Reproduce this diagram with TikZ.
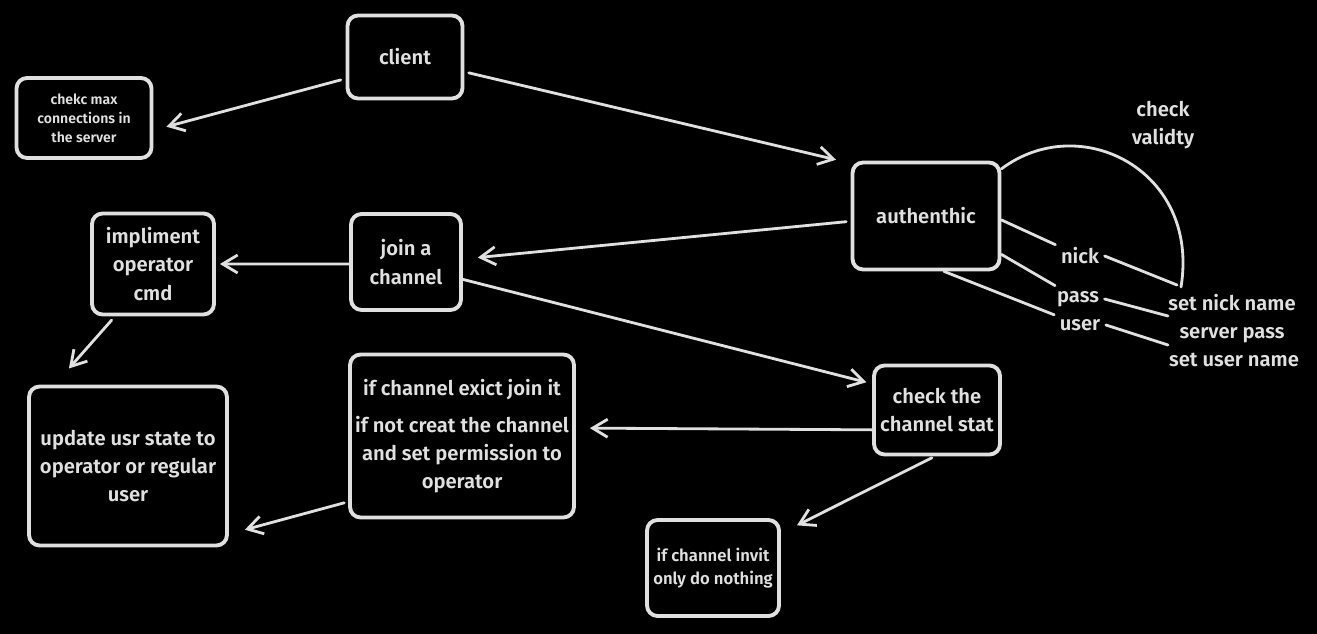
\documentclass[tikz,border=0pt]{standalone}
\usepackage{fontspec}
\setmainfont{Fira Sans}[UprightFont = * SemiBold]
\usetikzlibrary{shapes, arrows.meta, positioning}
\definecolor{chalk}{RGB}{224,224,224}
\tikzstyle{cmdbox} = [draw=chalk, line width=2.2pt, rounded corners=6pt, text=chalk, align=center, inner sep=2pt, font=\fontsize{11.5}{16}\selectfont]
\tikzstyle{tag} = [text=chalk, inner sep=3pt, align=center, font=\fontsize{11.5}{16}\selectfont]
\tikzstyle{link} = [draw=chalk, line width=1.6pt, line cap=round, -{Straight Barb[length=3mm, width=3.6mm, line width=1.6pt]}]
\tikzstyle{wire} = [draw=chalk, line width=1.6pt, line cap=round]

\begin{document}
\begin{tikzpicture}[x=0.02cm, y=-0.02cm]
	\fill[black] (0,0) rectangle (1317,634);
	\node[cmdbox, minimum width=2.3cm, minimum height=1.66cm] (client) at (405,57) {client};
	\node[cmdbox, minimum width=2.7cm, minimum height=1.6cm, font=\fontsize{8}{10.8}\selectfont] (maxconn) at (84,118) {chekc max\\connections in\\the server};
	\node[cmdbox, minimum width=2.94cm, minimum height=2.14cm] (auth) at (926,216) {authenthic};
	\node[cmdbox, minimum width=2.2cm, minimum height=1.92cm] (join) at (406,262) {join a\\channel};
	\node[cmdbox, minimum width=2.44cm, minimum height=2.02cm] (opcmd) at (153,264) {impliment\\operator\\cmd};
	\node[cmdbox, minimum width=3.96cm, minimum height=3.18cm] (usrstate) at (128,466) {update usr state to\\operator or regular\\user};
	\node[cmdbox, minimum width=4.48cm, minimum height=3.26cm] (exist) at (462,436) {if channel exict join it\\[5pt]if not creat the channel\\and set permission to\\operator};
	\node[cmdbox, minimum width=2.52cm, minimum height=1.78cm] (stat) at (937,410) {check the\\channel stat};
	\node[cmdbox, minimum width=2.64cm, minimum height=1.92cm, font=\fontsize{9.5}{13}\selectfont] (invite) at (713,568) {if channel invit\\only do nothing};

	\node[tag] (nick) at (1080,256) {nick};
	\node[tag] (pass) at (1078,299) {pass};
	\node[tag] (user) at (1080,325) {user};
	\node[tag] (validty) at (1163,125) {check\\validty};
	\node[tag, anchor=base] (setnick) at (1232,311) {set nick name};
	\node[tag, anchor=base] (srvpass) at (1232,339) {server pass};
	\node[tag, anchor=base] (setuser) at (1234,367) {set user name};
	\coordinate (nickend) at (1177,285);
	\coordinate (passend) at (1168,316);
	\coordinate (userend) at (1168,345);
	\coordinate (arcend) at (1181,287);

	\draw[link, shorten <=0.1cm, shorten >=0.27cm] (client.200) -- (maxconn.-10);
	\draw[link, shorten <=0.09cm, shorten >=0.3cm] (client.-14) -- (auth.145);
	\draw[link, shorten <=0.09cm, shorten >=0.3cm] (auth.184) -- (join.3);
	\draw[link, shorten >=0.08cm] (join.182) -- (opcmd.0);
	\draw[link, shorten <=0.1cm, shorten >=0.43cm] (opcmd.234) -- (usrstate.132);
	\draw[link, shorten >=0.12cm] (join.-17) -- (stat.158);
	\draw[link, shorten >=0.28cm] (stat.197) -- (exist.4);
	\draw[link, shorten <=0.06cm, shorten >=0.36cm] (stat.-93) -- (invite.27);
	\draw[link, shorten <=0.08cm, shorten >=0.33cm] (exist.210) -- (usrstate.-34);

	\draw[wire] (auth.-3) -- (nick);
	\draw[wire] (auth.-27) -- (pass);
	\draw[wire] (auth.-72) -- (user);
	\draw[wire] (nick.east) -- (nickend);
	\draw[wire] (pass.east) -- (passend);
	\draw[wire] (user.east) -- (userend);
	\draw[wire] (auth.32) .. controls (1080,110) and (1200,170) .. (arcend);
\end{tikzpicture}
\end{document}
